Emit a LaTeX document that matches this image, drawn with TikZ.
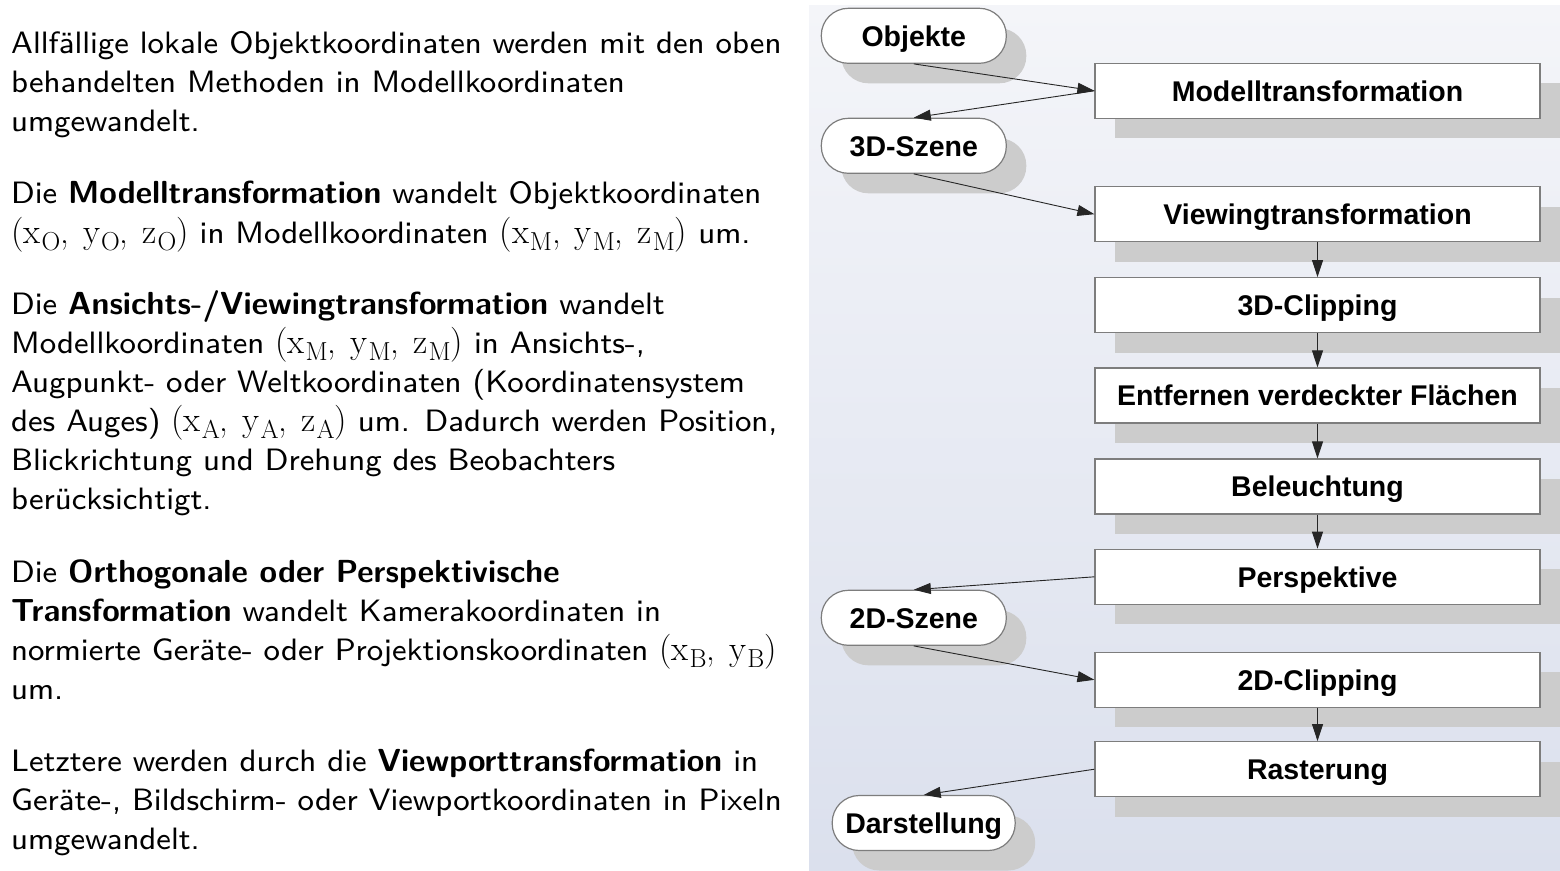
\documentclass[tikz,border=0pt]{standalone}
\usepackage[no-math]{fontspec}
\setsansfont{lmsans8-regular.otf}[BoldFont=lmsans10-bold.otf]
\newfontfamily\arialb{Liberation Sans}
\newfontfamily\lmr{Latin Modern Roman}
\usetikzlibrary{arrows.meta,shadows}
\definecolor{panelTop}{RGB}{244,245,249}
\definecolor{panelBot}{RGB}{219,224,237}
\definecolor{shadowgray}{RGB}{204,204,204}
\definecolor{bordergray}{RGB}{125,125,125}
\newcommand{\cvar}[2]{#1\kern1pt\raisebox{-7pt}{\fontsize{26}{26}\selectfont #2}}
\newcommand{\ctrip}[1]{{\lmr\fontsize{35}{39}\selectfont(\cvar{x}{#1},\hspace{0.4em}\cvar{y}{#1},\hspace{0.4em}\cvar{z}{#1})}}
\newcommand{\cpair}[1]{{\lmr\fontsize{35}{39}\selectfont(\cvar{x}{#1},\hspace{0.4em}\cvar{y}{#1})}}
\newcommand{\kw}[1]{{\fontsize{31.9}{39}\selectfont\bfseries #1}}
\tikzset{
  bodytext/.style={anchor=base west, inner sep=0pt, font=\sffamily\fontsize{30.9}{39}\selectfont},
  stagebox/.style={draw=bordergray, line width=1.2pt, fill=white, minimum width=445pt, minimum height=55pt,
    inner sep=0pt, font=\arialb\bfseries\fontsize{28.5}{30}\selectfont, text height=20.5pt, text depth=0pt,
    general shadow={fill=shadowgray, shadow xshift=20pt, shadow yshift=-20pt}},
  pill/.style={stagebox, rounded corners=27pt, minimum width=185pt},
  conn/.style={draw=black!85, line width=0.9pt, -{Triangle[length=17pt,width=11pt]}}
}
\begin{document}
\begin{tikzpicture}[x=1pt,y=-1pt]
\useasboundingbox (0,0) rectangle (1560,870);
\fill[white] (0,0) rectangle (1560,870);
\shade[top color=panelTop, bottom color=panelBot] (809,5) rectangle (1560,870);

% left text
\node[bodytext] (t1) at (11,53.5) {Allfällige lokale Objektkoordinaten werden mit den oben};
\node[bodytext] (t2) at (11,92.5) {behandelten Methoden in Modellkoordinaten};
\node[bodytext] (t3) at (11,131.5) {umgewandelt.};
\node[bodytext] (t4) at (11,203) {Die \kw{Modelltransformation} wandelt Objektkoordinaten};
\node[bodytext] (t5) at (11,243) {\ctrip{O} in Modellkoordinaten \ctrip{M} um.};
\node[bodytext] (t6) at (11,314.5) {Die \kw{Ansichts-/Viewingtransformation} wandelt};
\node[bodytext] (t7) at (11,353.5) {Modellkoordinaten \ctrip{M} in Ansichts-,};
\node[bodytext] (t8) at (11,392.5) {Augpunkt- oder Weltkoordinaten (Koordinatensystem};
\node[bodytext] (t9) at (11,431.5) {des Auges) \ctrip{A} um. Dadurch werden Position,};
\node[bodytext] (t10) at (11,470.5) {Blickrichtung und Drehung des Beobachters};
\node[bodytext] (t11) at (11,509.5) {berücksichtigt.};
\node[bodytext] (t12) at (11,582.5) {Die \kw{Orthogonale oder Perspektivische}};
\node[bodytext] (t13) at (11,621.5) {\kw{Transformation} wandelt Kamerakoordinaten in};
\node[bodytext] (t14) at (11,660.5) {normierte Geräte- oder Projektionskoordinaten \cpair{B}};
\node[bodytext] (t15) at (11,699.5) {um.};
\node[bodytext] (t16) at (11,771.5) {Letztere werden durch die \kw{Viewporttransformation} in};
\node[bodytext] (t17) at (11,810.5) {Geräte-, Bildschirm- oder Viewportkoordinaten in Pixeln};
\node[bodytext] (t18) at (11,849.5) {umgewandelt.};

% diagram
\node[pill] (obj) at (913.8,35.8) {Objekte};
\node[stagebox] (model) at (1317.5,90.8) {Modelltransformation};
\node[pill] (sz3) at (913.8,145.8) {3D-Szene};
\node[stagebox] (view) at (1317.5,214.2) {Viewingtransformation};
\node[stagebox] (clip3) at (1317.5,305.2) {3D-Clipping};
\node[stagebox] (entf) at (1317.5,395.5) {Entfernen verdeckter Flächen};
\node[stagebox] (bel) at (1317.5,486.5) {Beleuchtung};
\node[stagebox] (persp) at (1317.5,576.8) {Perspektive};
\node[pill] (sz2) at (913.8,617.8) {2D-Szene};
\node[stagebox] (clip2) at (1317.5,679.8) {2D-Clipping};
\node[stagebox] (raster) at (1317.5,769.2) {Rasterung};
\node[pill, minimum width=183pt] (darst) at (923.7,823) {Darstellung};

\draw[conn] (obj.south) -- (model.west);
\draw[conn] (model.west) -- (sz3.north);
\draw[conn] (sz3.south) -- (view.west);
\draw[conn] (view) -- (clip3);
\draw[conn] (clip3) -- (entf);
\draw[conn] (entf) -- (bel);
\draw[conn] (bel) -- (persp);
\draw[conn] (persp.west) -- (sz2.north);
\draw[conn] (sz2.south) -- (clip2.west);
\draw[conn] (clip2) -- (raster);
\draw[conn] (raster.west) -- (darst.north);
\end{tikzpicture}
\end{document}
